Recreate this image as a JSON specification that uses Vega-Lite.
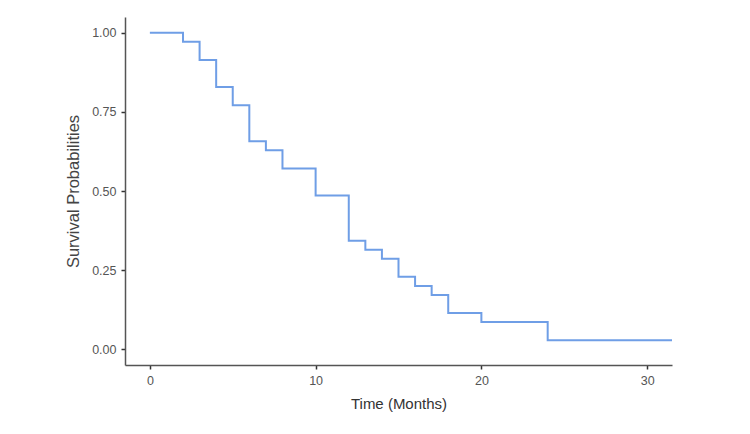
{
  "$schema": "https://vega.github.io/schema/vega-lite/v6.json",
  "autosize": "none",
  "width": 547,
  "height": 348,
  "padding": {"left": 125, "top": 17, "right": 78, "bottom": 69},
  "background": "white",
  "config": {"view": {"stroke": null}},
  "data": {"values": [
    {"time": 0, "surv": 1.0},
    {"time": 2, "surv": 0.9714},
    {"time": 3, "surv": 0.9143},
    {"time": 4, "surv": 0.8286},
    {"time": 5, "surv": 0.7714},
    {"time": 6, "surv": 0.6571},
    {"time": 7, "surv": 0.6286},
    {"time": 8, "surv": 0.5714},
    {"time": 10, "surv": 0.4857},
    {"time": 12, "surv": 0.3429},
    {"time": 13, "surv": 0.3143},
    {"time": 14, "surv": 0.2857},
    {"time": 15, "surv": 0.2286},
    {"time": 16, "surv": 0.2},
    {"time": 17, "surv": 0.1714},
    {"time": 18, "surv": 0.1143},
    {"time": 20, "surv": 0.0857},
    {"time": 24, "surv": 0.0286},
    {"time": 31.5, "surv": 0.0286}
  ]},
  "mark": {"type": "line", "interpolate": "step-after", "color": "#6f9ee6", "strokeWidth": 2, "clip": true},
  "encoding": {
    "x": {
      "field": "time", "type": "quantitative",
      "scale": {"domain": [-1.5, 31.5], "nice": false, "zero": false},
      "axis": {
        "title": "Time (Months)", "values": [0, 10, 20, 30], "grid": false,
        "domainColor": "#555555", "domainWidth": 1.5, "tickColor": "#333333", "tickWidth": 1.5, "tickSize": 4,
        "labelColor": "#555555", "labelFont": "Liberation Sans", "labelFontSize": 12.5, "labelPadding": 5,
        "titleFont": "Liberation Sans", "titleFontSize": 15, "titleFontWeight": "normal", "titleColor": "#333333", "titlePadding": 10
      }
    },
    "y": {
      "field": "surv", "type": "quantitative",
      "scale": {"domain": [-0.05, 1.05], "nice": false, "zero": false},
      "axis": {
        "title": "Survival Probabilities", "values": [0, 0.25, 0.5, 0.75, 1], "format": ".2f", "grid": false,
        "domainColor": "#555555", "domainWidth": 1.5, "tickColor": "#333333", "tickWidth": 1.5, "tickSize": 4,
        "labelColor": "#555555", "labelFont": "Liberation Sans", "labelFontSize": 12.5, "labelPadding": 5,
        "titleFont": "Liberation Sans", "titleFontSize": 16.5, "titleFontWeight": "normal", "titleColor": "#444444", "titlePadding": 10
      }
    }
  }
}
